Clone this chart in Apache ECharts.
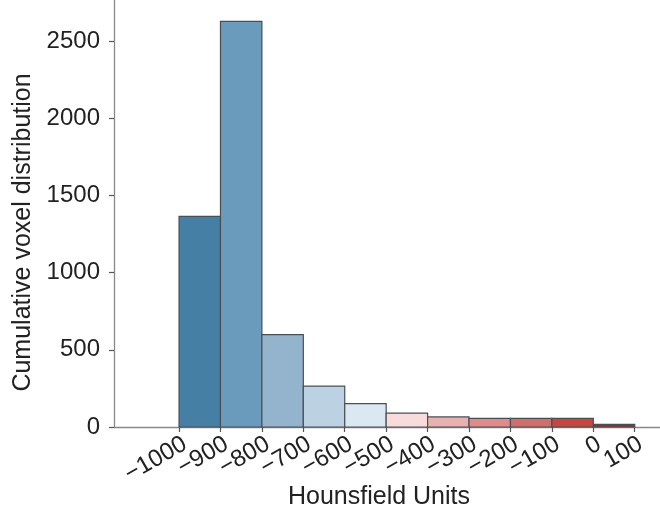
<!DOCTYPE html>
<html>
<head>
<meta charset="utf-8">
<script src="https://cdn.jsdelivr.net/npm/echarts@6/dist/echarts.min.js"></script>
<style>
html,body{margin:0;padding:0;background:#fff;}
#c{width:660px;height:515px;}
</style>
</head>
<body>
<div id="c"></div>
<script>
// Bin edges (Hounsfield Units)
var binStart = [-1000, -900, -800, -700, -600, -500, -400, -300, -200, -100, 0];
var binEnd   = [-900, -800, -700, -600, -500, -400, -300, -200, -100, 0, 100];
// Counts per bin
var counts   = [1365, 2628, 598, 265, 152, 90, 65, 56, 56, 56, 17];
// Bar colours
var barColors = ['#467fa4', '#6a9bbc', '#93b4cc', '#bcd2e3', '#dbe7f1', '#f8dcdb', '#e8b0ae', '#dd8c8a', '#d16e6c', '#c7463f', '#a2282a'];
// Tick labels
var xTicks = [-1000, -900, -800, -700, -600, -500, -400, -300, -200, -100, 0, 100];
var yTicks = [0, 500, 1000, 1500, 2000, 2500];
var xMin = -1157, xMax = 161, yMax = 2767;

// blank guard labels at both ends so no real tick label is treated as min/max and auto-hidden
var xLabelValues = [xMin + 7].concat(xTicks, [xMax - 6]);

var data = binStart.map(function (s, i) { return [s, binEnd[i], counts[i]]; });

var chart = echarts.init(document.getElementById('c'), null, {renderer: 'canvas'});
var font = 'Liberation Sans, Arial, Helvetica, sans-serif';
chart.setOption({
  animation: false,
  grid: {left: 114, right: 0, top: 0, bottom: 88, outerBoundsMode: 'none', containLabel: false},
  xAxis: {
    type: 'value',
    min: xMin, max: xMax,
    name: 'Hounsfield Units',
    nameLocation: 'middle',
    nameMoveOverlap: false,
    nameGap: 58,
    nameTextStyle: {fontFamily: font, fontSize: 25, color: '#222', padding: [0, 16, 0, 0]},
    axisLine: {show: true, onZero: false, lineStyle: {color: '#888', width: 1.3}},
    axisTick: {show: true, customValues: xTicks, length: 5, lineStyle: {color: '#555', width: 1.2}},
    splitLine: {show: false},
    axisLabel: {
      customValues: xLabelValues,
      rotate: 30,
      margin: 5,
      align: 'right',
      verticalAlign: 'top',
      hideOverlap: false,
      fontFamily: font, fontSize: 24, color: '#222',
      formatter: function (v) {
        if (xTicks.indexOf(v) < 0) return '';
        return v < 0 ? '\u2212' + Math.abs(v) : String(v);
      }
    }
  },
  yAxis: {
    type: 'value',
    min: 0, max: yMax,
    name: 'Cumulative voxel distribution',
    nameLocation: 'middle',
    nameGap: 73,
    nameTextStyle: {fontFamily: font, fontSize: 25, color: '#222', padding: [0, 38, 0, 0]},
    axisLine: {show: true, onZero: false, lineStyle: {color: '#888', width: 1.3}},
    axisTick: {show: true, customValues: yTicks, length: 5, lineStyle: {color: '#555', width: 1.2}},
    splitLine: {show: false},
    axisLabel: {customValues: yTicks, margin: 14, fontFamily: font, fontSize: 24, color: '#222',
      formatter: function (v) { return String(v); }}
  },
  series: [{
    type: 'custom',
    data: data,
    encode: {x: [0, 1], y: 2},
    renderItem: function (params, api) {
      var p0 = api.coord([api.value(0), 0]);
      var p1 = api.coord([api.value(1), api.value(2)]);
      return {
        type: 'rect',
        shape: {x: p0[0], y: p1[1], width: p1[0] - p0[0], height: p0[1] - p1[1]},
        style: {fill: barColors[params.dataIndex], stroke: '#4a4f55', lineWidth: 1.2}
      };
    }
  }]
});
</script>
</body>
</html>
